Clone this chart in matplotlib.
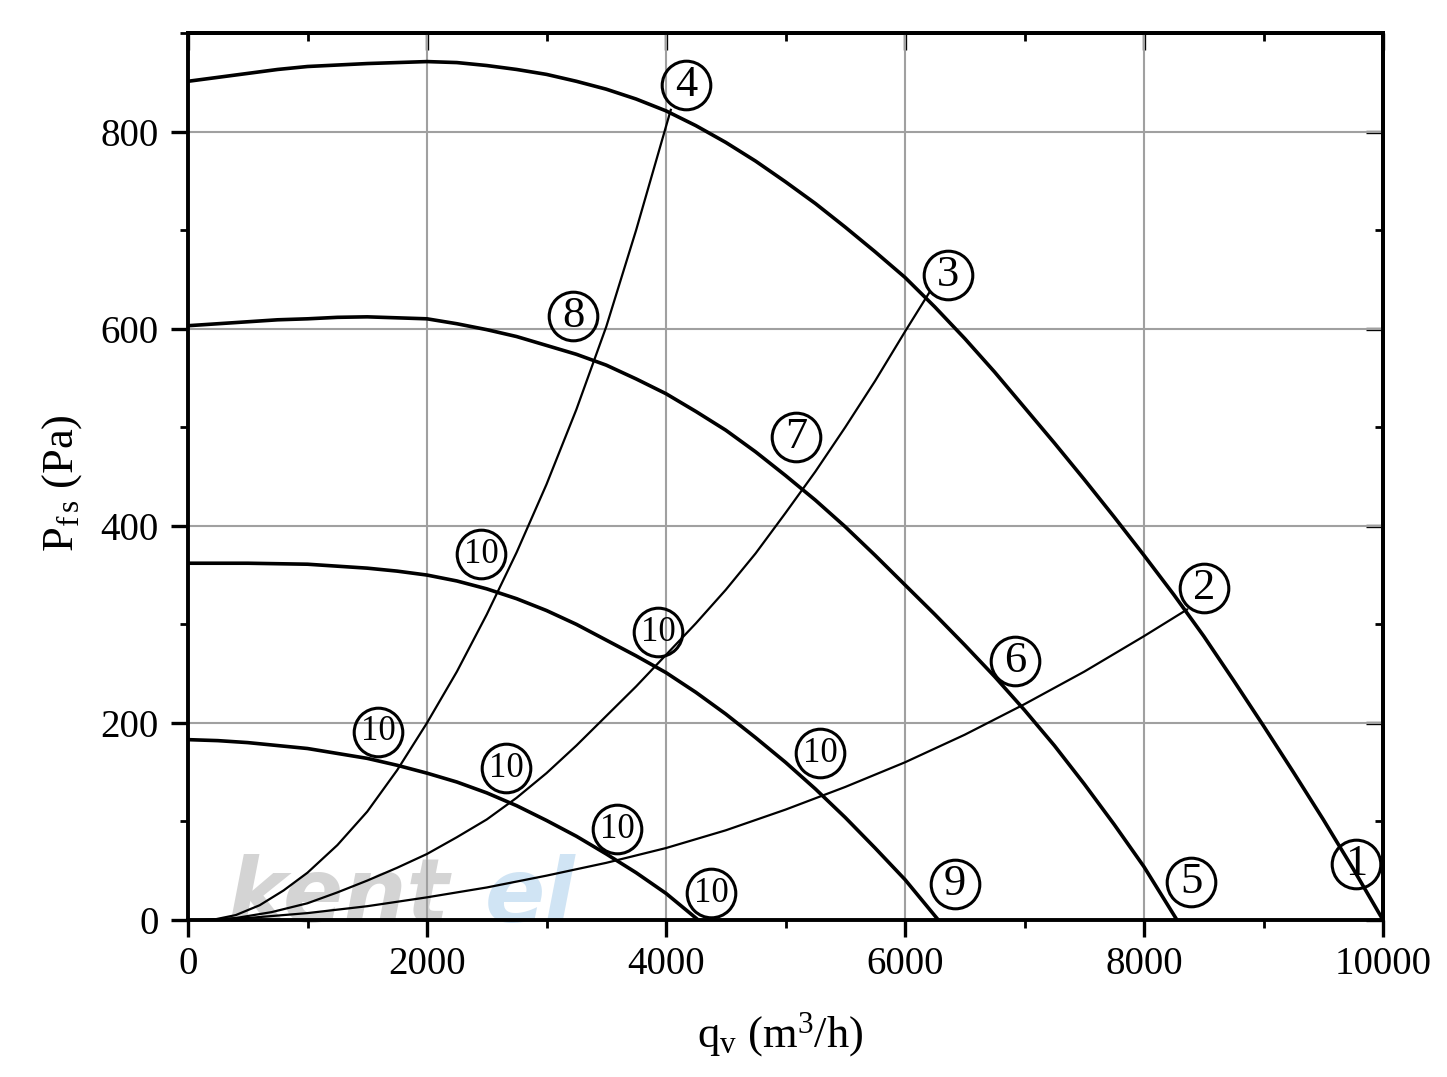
import matplotlib.pyplot as plt
from matplotlib.ticker import MultipleLocator

plt.rcParams['font.family'] = 'Liberation Serif'
plt.rcParams['mathtext.fontset'] = 'custom'
plt.rcParams['mathtext.rm'] = 'Liberation Serif'
plt.rcParams['mathtext.it'] = 'Liberation Serif:italic'

# fan curves (q in m3/h, p in Pa)
q_curve1 = [0, 250, 500, 750, 1000, 1500, 2000, 2250, 2500, 2750, 3000, 3250, 3500, 3750,
            4000, 4250, 4500, 4750, 5000, 5250, 5500, 5750, 6000, 6250, 6500, 6750,
            7000, 7250, 7500, 7750, 8000, 8250, 8500, 8750, 9000, 9250, 9500, 9750, 10000]
p_curve1 = [851, 855, 859, 863, 866, 869, 871, 870, 867, 863, 858, 851, 843, 833,
            821, 806, 789, 770, 749, 727, 703, 678, 652, 622, 590, 556,
            520, 484, 447, 409, 370, 330, 288, 243, 197, 150, 102, 52, 0]

q_curve2 = [0, 250, 500, 750, 1000, 1250, 1500, 1750, 2000, 2250, 2500, 2750, 3000, 3250,
            3500, 3750, 4000, 4250, 4500, 4750, 5000, 5250, 5500, 5750, 6000, 6250,
            6500, 6750, 7000, 7250, 7500, 7750, 8000, 8276]
p_curve2 = [603, 605, 607, 609, 610, 611.5, 612, 611, 610, 605, 599, 592, 583, 574,
            563, 549, 534, 516, 497, 475, 451, 426, 399, 370, 340, 310,
            279, 247, 213, 177, 138, 97, 54, 0]

q_curve3 = [0, 500, 1000, 1250, 1500, 1750, 2000, 2250, 2500, 2750, 3000, 3250, 3500, 3750,
            4000, 4250, 4500, 4750, 5000, 5250, 5500, 5750, 6000, 6279]
p_curve3 = [362, 362, 361, 359, 357, 354, 350, 344, 336, 326, 314, 300, 284, 268,
            251, 231, 209, 185, 160, 133, 104, 73, 41, 0]

q_curve4 = [0, 250, 500, 750, 1000, 1250, 1500, 1750, 2000, 2250, 2500, 2750, 3000, 3250,
            3500, 3750, 4000, 4270]
p_curve4 = [183, 182, 180, 177, 174, 169, 164, 157, 149, 140, 129, 116, 101, 85,
            67, 48, 27, 0]

# system resistance lines
q_sys8 = [200, 400, 600, 800, 1000, 1250, 1500, 1750, 2000, 2250, 2500, 2750, 3000, 3250,
          3500, 3750, 4040]
p_sys8 = [0, 5, 15, 30, 48, 76, 110, 152, 200, 252, 310, 373, 442, 518,
          602, 700, 822]

q_sys7 = [150, 400, 700, 1000, 1250, 1500, 1750, 2000, 2250, 2500, 2750, 3000, 3250, 3500,
          3750, 4000, 4250, 4500, 4750, 5000, 5250, 5500, 5750, 6000, 6200]
p_sys7 = [0, 2, 8, 17, 28, 40, 53, 67, 84, 102, 124, 149, 177, 207,
          237, 269, 301, 335, 372, 413, 455, 500, 547, 597, 636]

q_sys2 = [100, 500, 1000, 1500, 2000, 2500, 3000, 3500, 4000, 4500, 5000, 5500,
          6000, 6500, 7000, 7500, 8000, 8360]
p_sys2 = [0, 2, 7, 14, 23, 33, 45, 58, 73, 91, 112, 135,
          160, 188, 219, 252, 288, 315]

# circled labels
label_text = ['4', '3', '8', '7', '2', '6', '10', '10', '10', '10', '10', '10', '10',
              '9', '5', '1']
label_q = [4167, 6360, 3222, 5088, 8502, 6921, 2452, 3933, 1590, 2661, 5289, 3590, 4377,
           6418, 8393, 9774]
label_p = [847, 654, 613, 490, 337, 263, 371, 292, 191, 154, 169, 92, 27,
           37, 39, 57]

fig = plt.figure(figsize=(14.47, 10.77), dpi=100)
ax = fig.add_axes([188 / 1447, 1 - 920 / 1077, 1195 / 1447, 887 / 1077])

# faint brand watermark
ax.text(330, -2, 'kent', fontsize=64, family='DejaVu Sans', weight='heavy', style='italic',
        color='#d4d4d4', ha='left', va='baseline', zorder=0.5)
ax.text(2480, -2, 'el', fontsize=64, family='DejaVu Sans', weight='heavy', style='italic',
        color='#d0e4f4', ha='left', va='baseline', zorder=0.5)

for q, p in [(q_curve1, p_curve1), (q_curve2, p_curve2), (q_curve3, p_curve3), (q_curve4, p_curve4)]:
    ax.plot(q, p, color='k', lw=2.6, zorder=3, solid_joinstyle='round')
for q, p in [(q_sys8, p_sys8), (q_sys7, p_sys7), (q_sys2, p_sys2)]:
    ax.plot(q, p, color='k', lw=1.6, zorder=3, solid_joinstyle='round')

for t, q, p in zip(label_text, label_q, label_p):
    ax.plot(q, p, 'o', ms=35, mfc='none', mec='k', mew=2.2, zorder=4)
    fs = 25 if len(t) > 1 else 32
    ax.text(q, p, t, fontsize=fs, ha='center', va='center', zorder=5)

ax.set_xlim(0, 10000)
ax.set_ylim(0, 900)
ax.set_xticks(range(0, 10001, 2000))
ax.set_yticks(range(0, 801, 200))
ax.xaxis.set_minor_locator(MultipleLocator(1000))
ax.yaxis.set_minor_locator(MultipleLocator(100))
ax.set_axisbelow(True)
ax.grid(which='major', color='#a0a0a0', lw=1.5)

ax.tick_params(which='major', direction='out', length=12, width=2.4, labelsize=28)
ax.tick_params(which='minor', direction='out', length=5.5, width=2.0)
ax.tick_params(axis='x', which='major', pad=7)
ax.tick_params(axis='y', which='major', pad=9)
for s in ax.spines.values():
    s.set_linewidth(2.8)

top = ax.secondary_xaxis('top')
top.set_xticks(range(0, 10001, 2000))
top.xaxis.set_minor_locator(MultipleLocator(1000))
top.tick_params(which='major', direction='in', length=12, width=2.4, labeltop=False)
top.tick_params(which='minor', direction='in', length=5.5, width=2.0)
top.spines['top'].set_linewidth(2.8)

right = ax.secondary_yaxis('right')
right.set_yticks(range(0, 801, 200))
right.yaxis.set_minor_locator(MultipleLocator(100))
right.tick_params(which='major', direction='in', length=12, width=2.4, labelright=False)
right.tick_params(which='minor', direction='in', length=5.5, width=2.0)
right.spines['right'].set_linewidth(2.8)

fig.text(780 / 1447, 1 - 1035 / 1077, r'q$_{\mathrm{v}}$ (m$^{3}$/h)', fontsize=32,
         ha='center', va='center')
fig.text(62 / 1447, 1 - 483 / 1077, r'P$_{\mathrm{f\,s}}$ (Pa)', fontsize=32,
         rotation=90, ha='center', va='center')

fig.savefig('out.png', dpi=100)
